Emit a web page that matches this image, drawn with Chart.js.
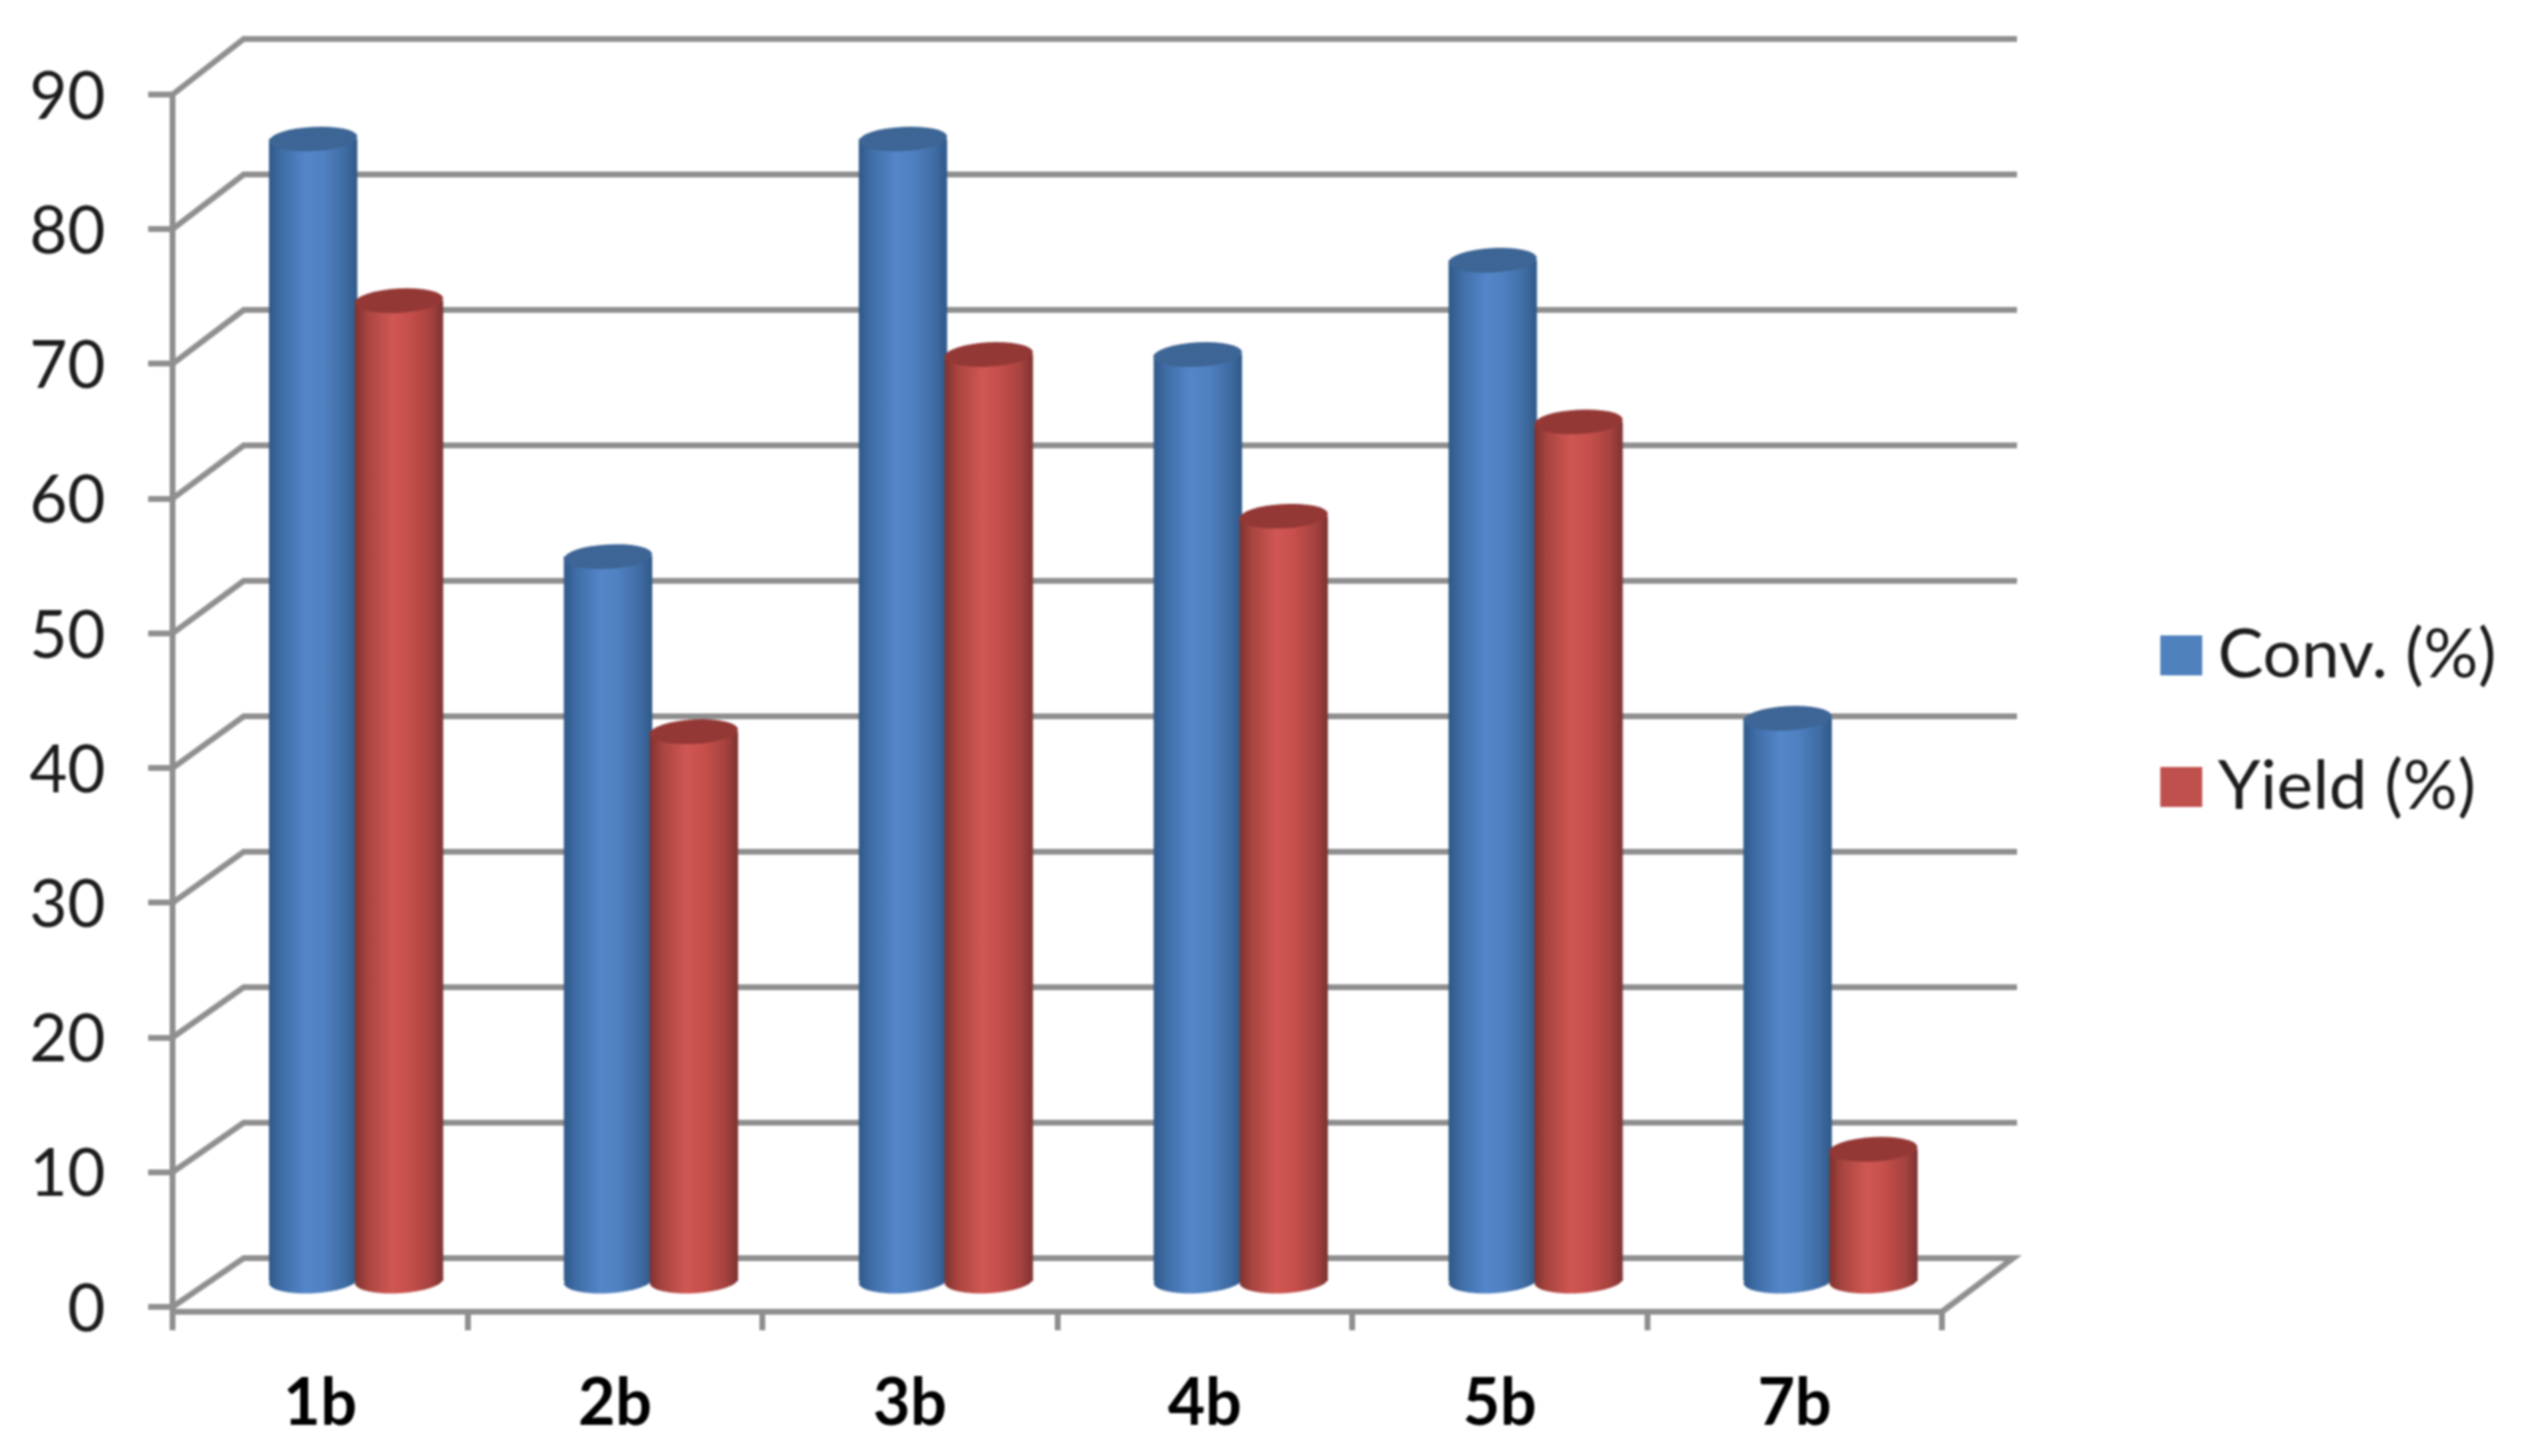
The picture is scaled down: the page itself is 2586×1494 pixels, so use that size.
<!DOCTYPE html>
<html>
<head>
<meta charset="utf-8">
<title>Conv. and Yield</title>
<script src="https://cdn.jsdelivr.net/npm/chart.js@4/dist/chart.umd.min.js"></script>
<style>
  html, body { margin: 0; padding: 0; background: #fff; }
  canvas { display: block; filter: blur(0.9px); }
</style>
</head>
<body>
<canvas id="chart" width="2586" height="1494"></canvas>
<script>
const categories = ['1b', '2b', '3b', '4b', '5b', '7b'];
const convValues = [85, 54, 85, 69, 76, 42];
const yieldValues = [73, 41, 69, 57, 64, 10];
const yTickValues = [0, 10, 20, 30, 40, 50, 60, 70, 80, 90];

const lineGray = '#8f8f8f';
const fontName = 'Lato, "Open Sans", sans-serif';

// side shading and top colour of each cylinder
const shades = [
  { stops: ['#2f5888', '#3f6da6', '#5486c9', '#4f80c0', '#3f6ca3', '#2f5888'], top: '#3d6595' },
  { stops: ['#7c3230', '#a8443f', '#d05753', '#c64f4b', '#a5423f', '#7c3230'], top: '#943835' }
];
const stopAt = [0, 0.14, 0.42, 0.62, 0.86, 1];

// pseudo 3D: the bars stand halfway into the floor, the walls at its far end
const midDepth = { x: 37, y: -23.5 };
const backDepth = { x: 73, overhang: 4, base: -50, perValue: -7 / 90 };

const fakeDepth = {
  id: 'fakeDepth',
  afterLayout(chart) {
    // legend sits in the free space right of the plot
    const lg = chart.legend;
    lg.left = 2170;
    lg.right = 2586;
    lg.top = 572.5;
    lg.bottom = 1000;
  },
  beforeDatasetsDraw(chart) {
    const { ctx, scales: { x, y } } = chart;

    // floor and back wall lines
    ctx.save();
    ctx.strokeStyle = lineGray;
    ctx.lineWidth = 6;
    yTickValues.forEach(v => {
      const py = y.getPixelForValue(v);
      const by = py + backDepth.base + backDepth.perValue * v;
      ctx.beginPath();
      ctx.moveTo(x.left, py);
      ctx.lineTo(x.left + backDepth.x, by);
      if (v === 0) {
        ctx.lineTo(x.right + backDepth.x, by);
        ctx.lineTo(x.right, y.bottom);
      } else {
        ctx.lineTo(x.right + backDepth.x + backDepth.overhang, by);
      }
      ctx.stroke();
    });
    ctx.restore();

    // cylinders, left to right so the red one covers the blue seam
    ctx.save();
    ctx.translate(midDepth.x, midDepth.y);
    categories.forEach((c, i) => {
      chart.data.datasets.forEach((ds, d) => {
        const bar = chart.getDatasetMeta(d).data[i];
        const rx = bar.width / 2;
        const ry = 12.5;
        const grad = ctx.createLinearGradient(bar.x - rx, 0, bar.x + rx, 0);
        shades[d].stops.forEach((col, s) => grad.addColorStop(stopAt[s], col));

        ctx.fillStyle = grad;
        ctx.beginPath();
        ctx.ellipse(bar.x, bar.base, rx, ry, -0.055, 0, Math.PI * 2);
        ctx.fill();

        bar.options = { ...bar.options, backgroundColor: grad };
        bar.draw(ctx);

        ctx.fillStyle = shades[d].top;
        ctx.beginPath();
        ctx.ellipse(bar.x, bar.y, rx, ry, -0.055, 0, Math.PI * 2);
        ctx.fill();
      });
    });
    ctx.restore();
    return false;
  }
};

new Chart(document.getElementById('chart'), {
  type: 'bar',
  data: {
    labels: categories,
    datasets: [
      { label: 'Conv. (%)', data: convValues, backgroundColor: '#4f81bd' },
      { label: 'Yield (%)', data: yieldValues, backgroundColor: '#c0504d' }
    ]
  },
  plugins: [fakeDepth],
  options: {
    responsive: false,
    animation: false,
    devicePixelRatio: 1,
    layout: { padding: { top: 97, right: 594, bottom: 0, left: 0 } },
    categoryPercentage: 0.582,
    barPercentage: 1.03,
    scales: {
      x: {
        afterFit(s) { s.height = 148; },
        border: { color: lineGray, width: 6 },
        grid: { drawOnChartArea: false, color: lineGray, lineWidth: 6, tickLength: 19 },
        ticks: {
          color: '#000',
          padding: 36,
          maxRotation: 0,
          font: { family: fontName, size: 66, weight: 'bold' }
        }
      },
      y: {
        min: -0.36,
        max: 90,
        afterFit(s) { s.width = 177; },
        afterBuildTicks(s) { s.ticks = yTickValues.map(v => ({ value: v })); },
        border: { color: lineGray, width: 6 },
        grid: { drawOnChartArea: false, color: lineGray, lineWidth: 6, tickLength: 25 },
        ticks: {
          color: '#1c1c1c',
          padding: 44,
          labelOffset: 3,
          font: { family: fontName, size: 67 }
        }
      }
    },
    plugins: {
      title: { display: false },
      tooltip: { enabled: false },
      legend: {
        position: 'chartArea',
        align: 'start',
        labels: {
          color: '#1c1c1c',
          boxWidth: 5,
          boxHeight: 3,
          padding: 65,
          font: { family: fontName, size: 70 },
          generateLabels(chart) {
            return Chart.defaults.plugins.legend.labels.generateLabels(chart).map(it => {
              const col = chart.data.datasets[it.datasetIndex].backgroundColor;
              return { ...it, fillStyle: col, strokeStyle: col, lineWidth: 38 };
            });
          }
        }
      }
    }
  }
});
</script>
</body>
</html>
